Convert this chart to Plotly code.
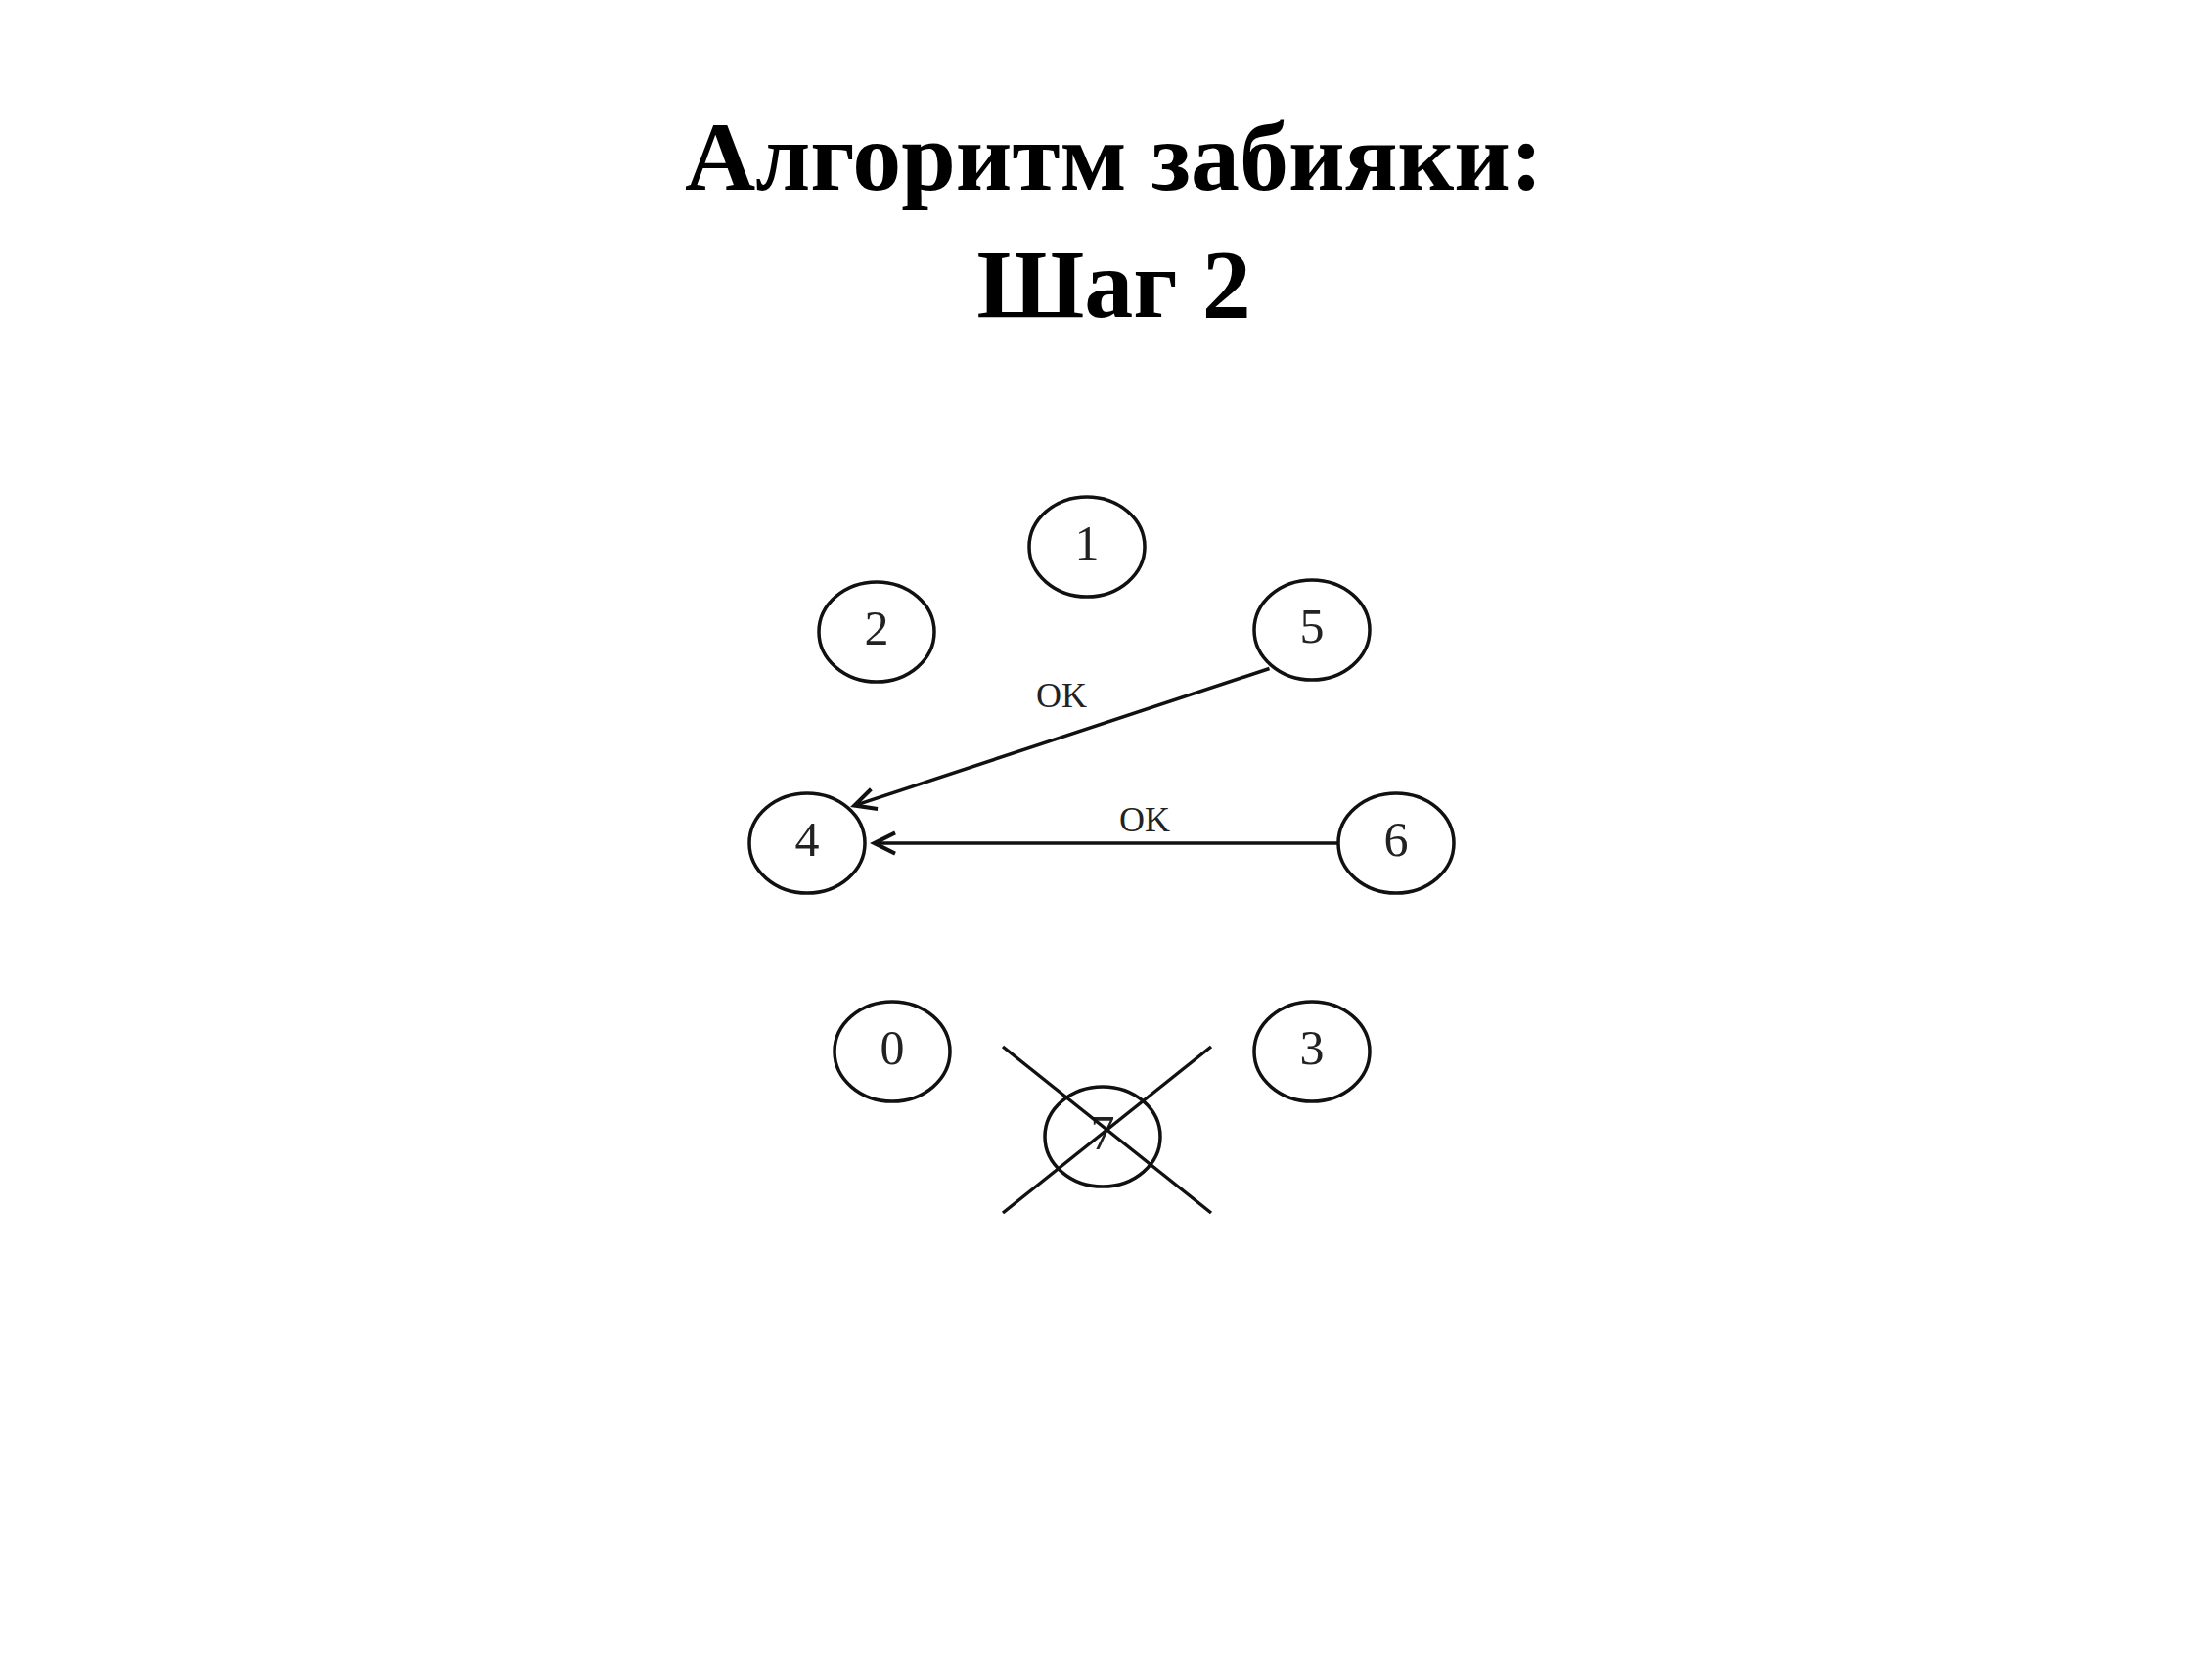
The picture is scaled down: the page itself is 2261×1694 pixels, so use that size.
import plotly.graph_objects as go

W, H = 2261, 1694
DX, DY = -13, -10

node_labels = ["1", "2", "5", "4", "6", "0", "3", "7"]
node_x = [1116, 901, 1346, 830, 1432, 917, 1346, 1132]
node_y = [561, 648, 646, 864, 864, 1077, 1077, 1164]
rx, ry = 59, 51

arrow_from = [(1304, 685), (1374, 864)]
arrow_to = [(874, 827), (894, 864)]
arrow_text = ["OK", "OK"]
arrow_text_pos = [(1090, 713), (1175, 840)]

cross_lines = [((1030, 1072), (1243, 1242)), ((1030, 1242), (1243, 1072))]

fig = go.Figure()
fig.add_trace(go.Scatter(
    x=[x + DX for x in node_x], y=[y + DY for y in node_y], mode="text", text=node_labels,
    textfont=dict(family="Liberation Serif", size=50, color="#222"),
    hoverinfo="skip", showlegend=False,
))

shapes = []
for x, y in zip(node_x, node_y):
    x, y = x + DX, y + DY
    shapes.append(dict(type="circle", xref="x", yref="y",
                       x0=x - rx, x1=x + rx, y0=y - ry, y1=y + ry,
                       line=dict(color="#111", width=3.5)))
for (x0, y0), (x1, y1) in cross_lines:
    shapes.append(dict(type="line", xref="x", yref="y", x0=x0 + DX, y0=y0 + DY,
                       x1=x1 + DX, y1=y1 + DY, line=dict(color="#111", width=3.5)))

annotations = []
for (fx, fy), (tx, ty) in zip(arrow_from, arrow_to):
    annotations.append(dict(x=tx + DX, y=ty + DY, ax=fx + DX, ay=fy + DY, xref="x", yref="y",
                            axref="x", ayref="y", text="", showarrow=True,
                            arrowhead=5, arrowsize=1.2, arrowwidth=3.5,
                            arrowcolor="#111"))
for txt, (x, y) in zip(arrow_text, arrow_text_pos):
    annotations.append(dict(x=x + DX, y=y + DY, xref="x", yref="y", text=txt, showarrow=False,
                            font=dict(family="Liberation Serif", size=36, color="#222")))
annotations.append(dict(x=0.5, y=1 - 95 / H, xref="paper", yref="paper", yanchor="top",
                        text="<b>Алгоритм забияки:<br>Шаг 2</b>", showarrow=False,
                        font=dict(family="Liberation Serif", size=100, color="#000")))

fig.update_layout(
    width=W, height=H, margin=dict(l=0, r=0, t=0, b=0),
    plot_bgcolor="white", paper_bgcolor="white",
    xaxis=dict(range=[0, W], visible=False),
    yaxis=dict(range=[H, 0], visible=False),
    shapes=shapes, annotations=annotations,
)
fig.write_html("out.html")
